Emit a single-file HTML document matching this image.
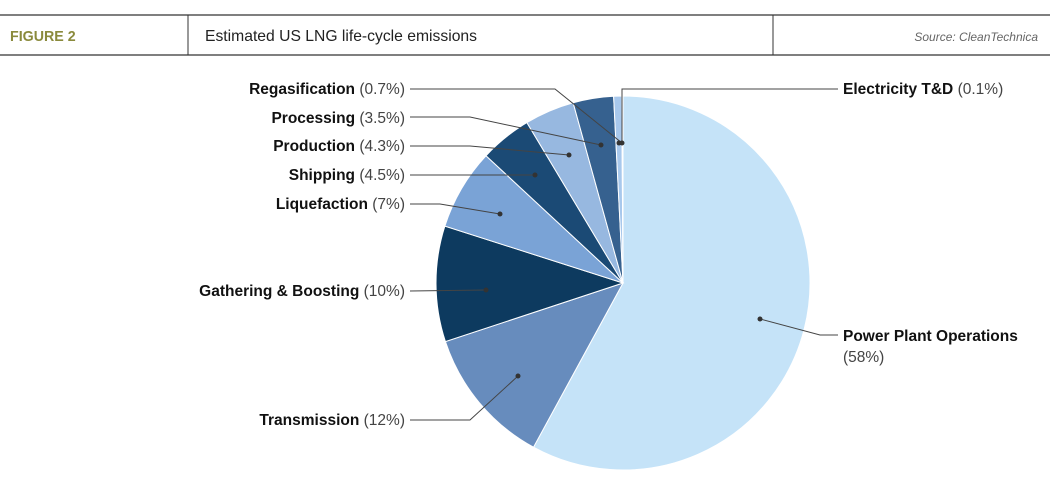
<!DOCTYPE html>
<html><head><meta charset="utf-8"><style>
body{margin:0;background:#fff;width:1050px;height:492px;overflow:hidden;font-family:"Liberation Sans",sans-serif}
</style></head><body>
<svg width="1050" height="492" xmlns="http://www.w3.org/2000/svg" font-family="Liberation Sans, sans-serif">
<line x1="0" y1="15" x2="1050" y2="15" stroke="#333" stroke-width="1.3"/>
<line x1="0" y1="55" x2="1050" y2="55" stroke="#333" stroke-width="1.3"/>
<line x1="188" y1="15" x2="188" y2="55" stroke="#333"/>
<line x1="773" y1="15" x2="773" y2="55" stroke="#333"/>
<text x="10" y="41" font-size="15" font-weight="bold" fill="#8a8a3c" transform="scale(0.95,1)" transform-origin="10 41">FIGURE 2</text>
<text x="205" y="41" font-size="15.7" fill="#222">Estimated US LNG life-cycle emissions</text>
<text x="1038" y="41" font-size="12" font-style="italic" fill="#666" text-anchor="end">Source: CleanTechnica</text>
<g id="pie"></g>
<g fill="none" stroke="#444" stroke-width="1">
<polyline points="410,89 555,89 622,143"/>
<polyline points="410,117 470,117 601,145"/>
<polyline points="410,146 470,146 569,155"/>
<polyline points="410,175 470,175 535,175"/>
<polyline points="410,204 440,204 500,214"/>
<polyline points="410,291 486,290"/>
<polyline points="410,420 470,420 518,376"/>
<polyline points="760,319 820,335 838,335"/>
<polyline points="838,89 622,89 622,143"/>
</g>
<g fill="#333">
<circle cx="622" cy="143" r="2.5"/><circle cx="619" cy="143" r="2.5"/><circle cx="601" cy="145" r="2.5"/><circle cx="569" cy="155" r="2.5"/>
<circle cx="535" cy="175" r="2.5"/><circle cx="500" cy="214" r="2.5"/><circle cx="486" cy="290" r="2.5"/>
<circle cx="518" cy="376" r="2.5"/><circle cx="760" cy="319" r="2.5"/>
</g>
<g font-size="15.5" fill="#111" text-anchor="end">
<text x="405" y="94"><tspan font-weight="bold">Regasification</tspan> <tspan fill="#444">(0.7%)</tspan></text>
<text x="405" y="123"><tspan font-weight="bold">Processing</tspan> <tspan fill="#444">(3.5%)</tspan></text>
<text x="405" y="151"><tspan font-weight="bold">Production</tspan> <tspan fill="#444">(4.3%)</tspan></text>
<text x="405" y="180"><tspan font-weight="bold">Shipping</tspan> <tspan fill="#444">(4.5%)</tspan></text>
<text x="405" y="209"><tspan font-weight="bold">Liquefaction</tspan> <tspan fill="#444">(7%)</tspan></text>
<text x="405" y="296"><tspan font-weight="bold">Gathering &amp; Boosting</tspan> <tspan fill="#444">(10%)</tspan></text>
<text x="405" y="425"><tspan font-weight="bold">Transmission</tspan> <tspan fill="#444">(12%)</tspan></text>
</g>
<g font-size="15.5" fill="#111">
<text x="843" y="94"><tspan font-weight="bold">Electricity T&amp;D</tspan> <tspan fill="#444">(0.1%)</tspan></text>
<text x="843" y="341" font-weight="bold">Power Plant Operations</text>
<text x="843" y="362" fill="#444">(58%)</text>
</g>
</svg>
<script>
var d=[[58,"#c5e3f8"],[12,"#678cbd"],[10,"#0d3a5f"],[7,"#7aa3d6"],[4.5,"#1b4a75"],[4.3,"#97b8e0"],[3.5,"#36618f"],[0.7,"#a8c8ec"],[0.1,"#c5e3f8"]];
var cx=623,cy=283,r=187,tot=0;d.forEach(function(e){tot+=e[0]});
var a=0,h="";
d.forEach(function(e){var b=a+e[0]/tot*2*Math.PI;
var x1=cx+r*Math.sin(a),y1=cy-r*Math.cos(a),x2=cx+r*Math.sin(b),y2=cy-r*Math.cos(b);
h+='<path d="M'+cx+','+cy+'L'+x1+','+y1+'A'+r+','+r+' 0 '+((b-a)>Math.PI?1:0)+' 1 '+x2+','+y2+'Z" fill="'+e[1]+'" stroke="#fff" stroke-width="1"/>';a=b;});
document.getElementById("pie").innerHTML=h;
</script>
</body></html>
